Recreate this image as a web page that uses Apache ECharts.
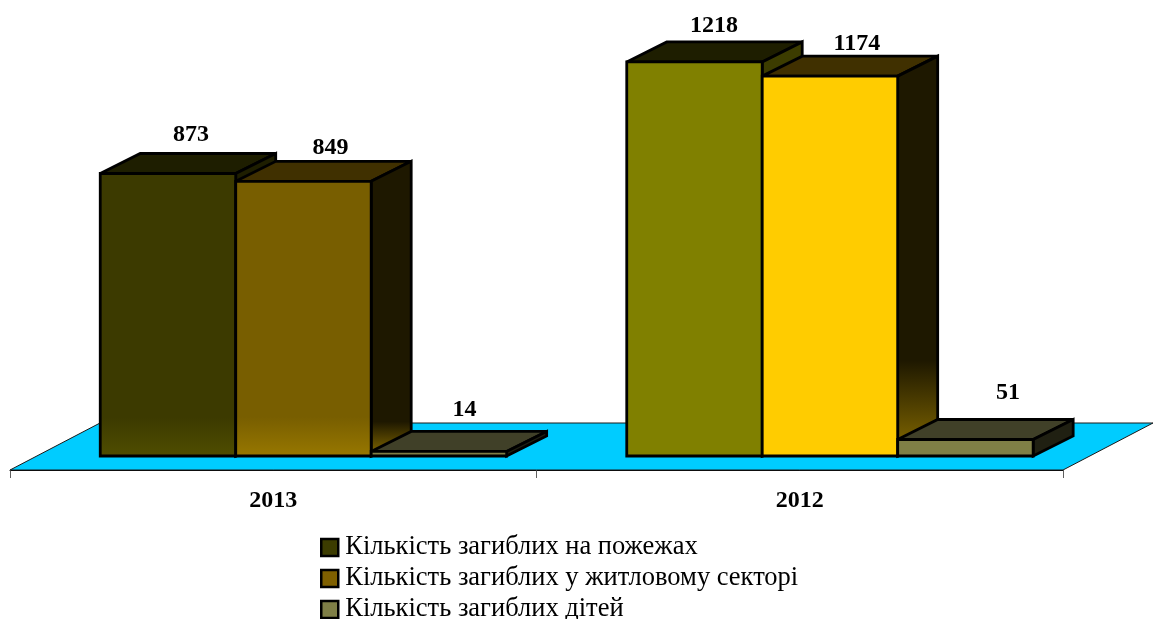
<!DOCTYPE html>
<html>
<head>
<meta charset="utf-8">
<title>Кількість загиблих</title>
<style>
  html, body { margin: 0; padding: 0; background: #fff; }
  #chart { width: 1153px; height: 619px; }
</style>
<script src="https://cdn.jsdelivr.net/npm/echarts@6/dist/echarts.min.js"></script>
</head>
<body>
<div id="chart"></div>
<script>
const years = ['2013', '2012']
const seriesNames = [
  'Кількість загиблих на пожежах',
  'Кількість загиблих у житловому секторі',
  'Кількість загиблих дітей'
]
const firesDead = [873, 1218]
const housingDead = [849, 1174]
const childrenDead = [14, 51]

// one colour set per series, then per year
const legendColors = ['#3C3C00', '#7F6000', '#7F7F46']
const frontColors = [
  [['#3C3A00', '#3C3A00', '#504E00'], ['#808000', '#808000', '#808000']],
  [['#785E00', '#785E00', '#987800'], ['#FFCC00', '#FFCC00', '#FFCC00']],
  [['#7F7F46', '#7F7F46', '#7F7F46'], ['#7F7F46', '#7F7F46', '#7F7F46']]
]
const topColors = ['#1E1E00', '#403000', '#404028']
const sideColors = [
  [['#1E1E00', '#1E1E00'], ['#3C3C00', '#3C3C00']],
  [['#1E1800', '#8A6E00', 0.88], ['#1E1800', '#8A6E00', 0.76]],
  [['#202012', '#202012'], ['#202012', '#202012']]
]
// excel drops its data labels a bit unevenly, nudges from bar top centre
const labelNudge = [
  [[3, -18.5], [-0.5, -16.5]],
  [[7, -13.5], [7, -12.5]],
  [[5.5, -21.5], [22.5, -26.5]]
]

const depthX = 40
const depthY = 20
const shiftX = 173
const shiftY = 14
const floorDepthX = 90
const floorDepthY = 47

function renderFloor(params, api) {
  const c = params.coordSys
  const b = c.y + c.height
  return {
    type: 'polygon',
    silent: true,
    shape: {
      points: [
        [c.x, b],
        [c.x + c.width, b],
        [c.x + c.width + floorDepthX, b - floorDepthY],
        [c.x + floorDepthX, b - floorDepthY]
      ]
    },
    style: { fill: '#00CCFF', stroke: '#1a1a1a', lineWidth: 1 }
  }
}

function makeRenderBar(s) {
  return function(params, api) {
    const cat = api.value(0)
    const val = api.value(1)
    const p = api.coord([cat, val])
    const p0 = api.coord([cat, 0])
    const w = api.size([1, 0])[0] * 0.2573
    const x0 = p[0] - shiftX + s * w
    const x1 = x0 + w
    const yt = p[1] - shiftY
    const yb = p0[1] - shiftY
    const front = frontColors[s][cat]
    const side = sideColors[s][cat]
    const frontStart = (yb - yt) > 100 ? 1 - 40 / (yb - yt) : 0
    const stroke = { stroke: '#000', lineWidth: 2.8, lineJoin: 'miter', miterLimit: 3 }
    const nudge = labelNudge[s][cat]
    return {
      type: 'group',
      children: [
        {
          type: 'polygon',
          shape: { points: [[x0, yt], [x1, yt], [x1 + depthX, yt - depthY], [x0 + depthX, yt - depthY]] },
          style: { fill: topColors[s], ...stroke }
        },
        {
          type: 'polygon',
          shape: { points: [[x1, yt], [x1 + depthX, yt - depthY], [x1 + depthX, yb - depthY], [x1, yb]] },
          style: {
            fill: {
              type: 'linear', x: 0, y: 0, x2: 0, y2: 1,
              colorStops: [
                { offset: 0, color: side[0] },
                { offset: side[2] || 0.5, color: side[0] },
                { offset: 1, color: side[1] }
              ]
            },
            ...stroke
          }
        },
        {
          type: 'rect',
          shape: { x: x0, y: yt, width: w, height: yb - yt },
          style: {
            fill: {
              type: 'linear', x: 0, y: 0, x2: 0, y2: 1,
              colorStops: [
                { offset: 0, color: front[0] },
                { offset: frontStart, color: front[1] },
                { offset: 1, color: front[2] }
              ]
            },
            ...stroke
          }
        },
        {
          type: 'text',
          style: {
            text: String(val),
            x: x0 + w / 2 + depthX / 2 + nudge[0],
            y: yt - depthY + nudge[1],
            align: 'center',
            verticalAlign: 'middle',
            fontFamily: 'Liberation Serif',
            fontWeight: 'bold',
            fontSize: 24,
            fill: '#000'
          }
        }
      ]
    }
  }
}

const seriesValues = [firesDead, housingDead, childrenDead]

const chart = echarts.init(document.getElementById('chart'))
chart.setOption({
  animation: false,
  backgroundColor: '#fff',
  grid: { left: 10, right: 90, top: 17, bottom: 149 },
  legend: {
    data: seriesNames,
    orient: 'vertical',
    left: 320,
    top: 534,
    height: 110,
    padding: 0,
    itemWidth: 17,
    itemHeight: 17,
    itemGap: 4,
    icon: 'rect',
    selectedMode: false,
    itemStyle: { borderColor: '#000', borderWidth: 2.5 },
    textStyle: { fontFamily: 'Liberation Serif', fontSize: 26.5, color: '#000', padding: [0, 0, 0, 2] }
  },
  xAxis: {
    type: 'category',
    data: years,
    axisLine: { lineStyle: { color: '#000', width: 1 } },
    axisTick: { show: true, length: 8, lineStyle: { color: '#606060', width: 1 } },
    axisLabel: { margin: 19, fontFamily: 'Liberation Serif', fontWeight: 'bold', fontSize: 24, color: '#000' }
  },
  yAxis: { type: 'value', min: 0, max: 1400, show: false },
  series: [
    {
      type: 'custom',
      name: 'floor',
      silent: true,
      z: 1,
      data: [[0, 0]],
      renderItem: renderFloor
    }
  ].concat(seriesNames.map(function(name, s) {
    return {
      type: 'custom',
      name: name,
      z: 2 + s,
      silent: true,
      clip: false,
      itemStyle: { color: legendColors[s] },
      encode: { x: 0, y: 1 },
      data: seriesValues[s].map(function(v, i) { return [i, v] }),
      renderItem: makeRenderBar(s)
    }
  }))
})
</script>
</body>
</html>
